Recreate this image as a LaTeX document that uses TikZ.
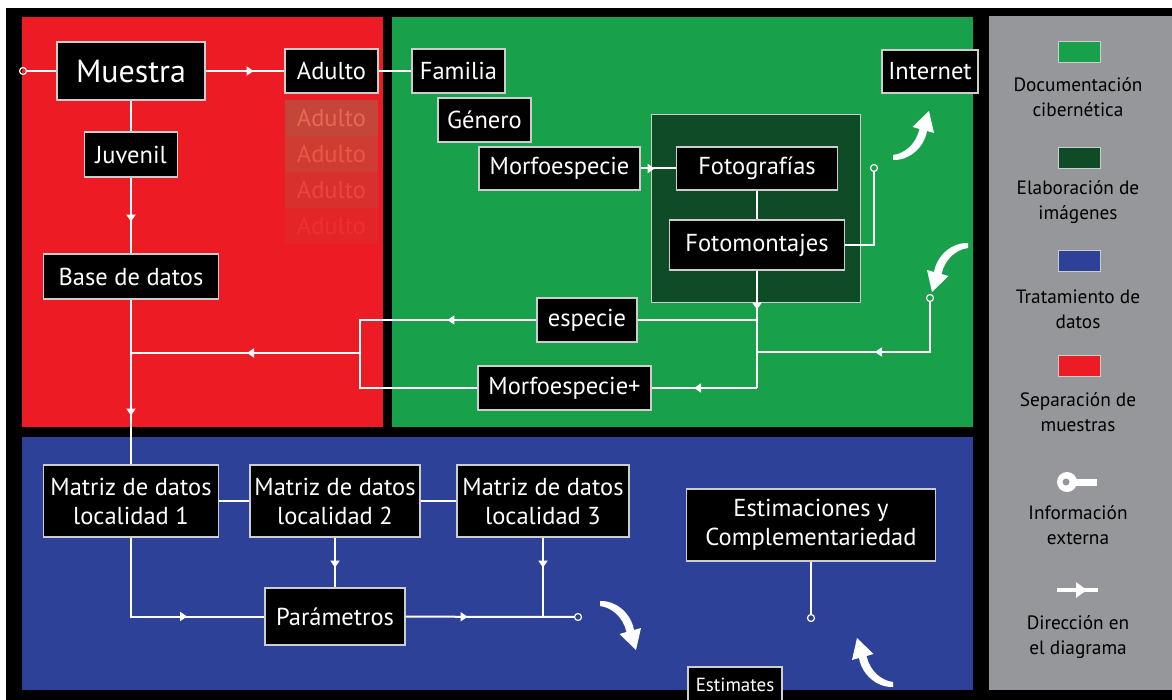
\documentclass[tikz,border=0pt]{standalone}
\usepackage{fontspec}
\setmainfont{PT Sans}
\usetikzlibrary{arrows.meta,decorations.markings,calc}
\definecolor{sepred}{RGB}{237,28,36}
\definecolor{docgreen}{RGB}{25,160,74}
\definecolor{imggreen}{RGB}{15,75,38}
\definecolor{datblue}{RGB}{45,65,152}
\definecolor{legendgray}{RGB}{150,151,155}
\definecolor{boxline}{RGB}{205,205,205}

\tikzset{
  blk/.style={draw=boxline,line width=1.2pt,fill=black,text=white,inner sep=0pt,
    align=center,font=\fontsize{24.5}{29}\selectfont},
  sz/.style 2 args={minimum width=#1pt,minimum height=#2pt},
  flow/.style={draw=white,line width=2pt},
  dirat/.style={postaction={decorate},decoration={markings,
    mark=at position #1 with {\arrow[white]{Triangle[width=9pt,length=7pt]}}}},
  bigdirat/.style={postaction={decorate},decoration={markings,
    mark=at position #1 with {\arrow[white]{Triangle[width=15pt,length=11pt]}}}},
  ext/.style={circle,draw=white,line width=1.2pt,inner sep=0pt,minimum size=7pt},
  legtxt/.style={text=black,align=center,font=\fontsize{19.3}{25}\selectfont},
  legbox/.style={draw=boxline,line width=0.8pt,minimum width=42pt,minimum height=21pt,inner sep=0pt},
  bentarrow/.pic={
    \fill[white] (0,-2) .. controls (16,-2.5) and (31,10) .. (34,27)
      -- (41,25) -- (36,47) -- (19.5,31) -- (26.5,29)
      .. controls (23,14) and (12,4.5) .. (0,3) -- cycle;
  }
}

\begin{document}
\begin{tikzpicture}[x=1pt,y=-1pt]
    \useasboundingbox (0,0) rectangle (1172,700);

    % Background panels
    \fill[black] (6,8) rectangle (1172,700);
    \fill[legendgray] (989,16) rectangle (1172,690);
    \fill[sepred] (22,17) rectangle (383,427);
    \fill[docgreen] (392,17) rectangle (973,427);
    \fill[datblue] (22,437) rectangle (973,690);
    \filldraw[fill=imggreen,draw=boxline,line width=0.8pt] (651,114) rectangle (860,302);

    % Faded copies
    \foreach \i/\bf/\tf in {1/{196,70,58}/{232,104,84},2/{206,60,50}/{232,88,70},
                            3/{216,48,44}/{234,70,58},4/{227,37,40}/{236,48,48}}{
        \definecolor{fadebox}{RGB}{\bf}
        \definecolor{fadetxt}{RGB}{\tf}
        \node[fill=fadebox,text=fadetxt,inner sep=0pt,sz={93}{36},
              font=\fontsize{24.5}{29}\selectfont] (adulto\i) at (331.5,{82+36*\i}) {Adulto};
    }

    % Sample separation
    \node[ext] (in0) at (23,71) {};
    \node[blk,sz={148}{58},font=\fontsize{32}{36}\selectfont] (muestra) at (131,71) {Muestra};
    \node[blk,sz={93}{44}] (adulto) at (331.5,71) {Adulto};
    \node[blk,sz={93}{45}] (juvenil) at (131,154.5) {Juvenil};
    \node[blk,sz={175}{45}] (base) at (131,276.5) {Base de datos};

    % Cyber documentation
    \node[blk,sz={93}{44}] (familia) at (458.5,71) {Familia};
    \node[blk,sz={93}{44}] (genero) at (484.5,120) {Género};
    \node[blk,sz={161}{43}] (morfo) at (559.5,168.5) {Morfoespecie};
    \node[blk,sz={161}{43}] (fotos) at (757,168.5) {Fotografías};
    \node[blk,sz={175}{50}] (montajes) at (757,245) {Fotomontajes};
    \node[blk,sz={96}{43}] (internet) at (930,71.5) {Internet};
    \node[blk,sz={100}{44}] (especie) at (587,320) {especie};
    \node[blk,sz={173}{44}] (morfoplus) at (564.5,388) {Morfoespecie+};
    \node[ext] (in1) at (874,168) {};
    \node[ext] (in2) at (930,298) {};

    % Data treatment
    \node[blk,sz={175}{72}] (mat1) at (131,501) {Matriz de datos\\localidad 1};
    \node[blk,sz={170}{72}] (mat2) at (335,501) {Matriz de datos\\localidad 2};
    \node[blk,sz={172}{72}] (mat3) at (543,501) {Matriz de datos\\localidad 3};
    \node[blk,sz={140}{57}] (param) at (335,616.5) {Parámetros};
    \node[ext] (out1) at (578,617) {};
    \node[blk,sz={249}{72}] (estim) at (811,525) {Estimaciones y\\Complementariedad};
    \node[ext] (out2) at (811,618) {};
    \node[blk,sz={94}{35},font=\fontsize{19}{22}\selectfont] (estimates) at (735,684.5) {Estimates};

    \coordinate (jB) at (131,353);
    \coordinate (jE) at (360,353);
    \coordinate (cT) at (360,320);
    \coordinate (cB) at (360,388);
    \coordinate (jS) at (757,320);
    \coordinate (jR) at (757,352);
    \coordinate (jM) at (757,388);
    \coordinate (jP) at (543,617);

    % Connectors
    \draw[flow] (in0) -- (muestra);
    \draw[flow,dirat=48pt] (muestra) -- (adulto);
    \draw[flow] (adulto) -- (familia);
    \draw[flow] (muestra) -- (juvenil);
    \draw[flow,dirat=44pt] (juvenil) -- (base);
    \draw[flow,dirat=116pt] (base) -- (mat1);
    \draw[flow,dirat=113pt] (jE) -- (jB);
    \draw[flow,dirat=14pt] (morfo) -- (fotos);
    \draw[flow] (fotos) -- (montajes);
    \draw[flow] (montajes) -| (in1);
    \draw[flow,dirat=39pt] (montajes) -- (jM);
    \draw[flow] (jS) -- (especie);
    \draw[flow,dirat=89pt] (especie) -- (cT) -- (cB) -- (morfoplus);
    \draw[flow,dirat=63pt] (jM) -- (morfoplus);
    \draw[flow,dirat=105pt] (in2) |- (jR);
    \draw[flow] (mat1) -- (mat2);
    \draw[flow] (mat2) -- (mat3);
    \draw[flow,dirat=30pt] (mat2) -- (param);
    \draw[flow,dirat=30pt] (mat3) -- (jP);
    \draw[flow,dirat=135pt] (mat1) |- (param);
    \draw[flow,dirat=62pt] (param) -- (out1);
    \draw[flow] (estim) -- (out2);

    % Bent arrows
    \pic[yscale=-1] at (893,158) {bentarrow};
    \pic[xscale=-1] at (968,245) {bentarrow};
    \pic at (600,603) {bentarrow};
    \pic[xscale=-1,yscale=-1] at (893,685) {bentarrow};

    % Legend
    \node[legbox,fill=docgreen] (lg1) at (1079,52) {};
    \node[legtxt] (lt1) at (1078,97) {Documentación\\cibernética};
    \node[legbox,fill=imggreen] (lg2) at (1079,158) {};
    \node[legtxt] (lt2) at (1078,202) {Elaboración de\\imágenes};
    \node[legbox,fill=datblue] (lg3) at (1079,261) {};
    \node[legtxt] (lt3) at (1078,309) {Tratamiento de\\datos};
    \node[legbox,fill=sepred] (lg4) at (1079,366) {};
    \node[legtxt] (lt4) at (1078,412) {Separación de\\muestras};
    \fill[white] (1067,482) circle (10);
    \fill[legendgray] (1066,482) circle (3.5);
    \fill[white] (1074,478.5) rectangle (1097,485.5);
    \node[legtxt] (lt5) at (1078,525) {Información\\externa};
    \draw[white,line width=4pt,bigdirat=30pt] (1057,590) -- (1098,590);
    \node[legtxt] (lt6) at (1078,637) {Dirección en\\el diagrama};
\end{tikzpicture}
\end{document}
